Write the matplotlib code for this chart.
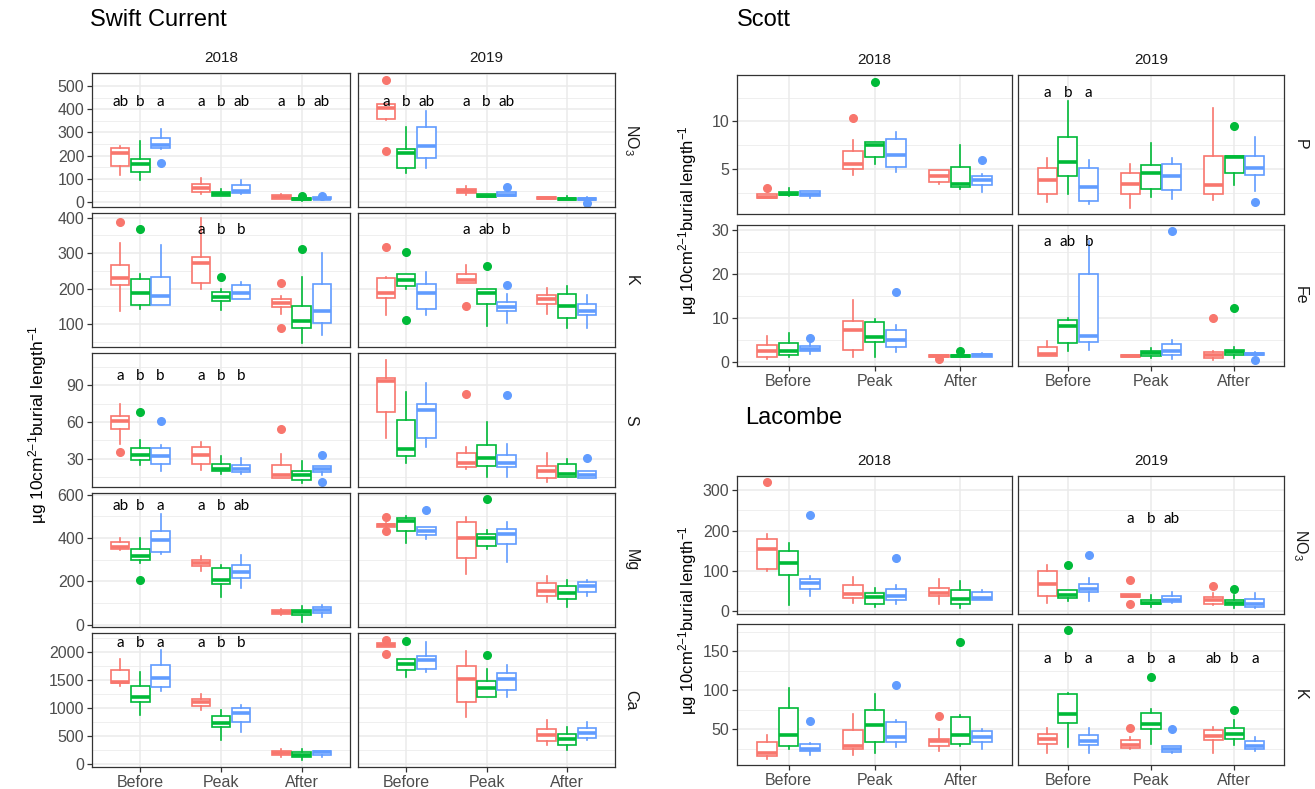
import matplotlib
matplotlib.use("Agg")
import matplotlib.pyplot as plt
from matplotlib.ticker import MultipleLocator

plt.rcParams['font.family'] = ['Liberation Sans', 'DejaVu Sans']
plt.rcParams['mathtext.fontset'] = 'custom'
plt.rcParams['mathtext.rm'] = 'Liberation Sans'
plt.rcParams['mathtext.default'] = 'regular'

W, H = 1315, 789

PERIODS = ["Before", "Peak", "After"]
YEARS = ["2018", "2019"]
COLORS = ["#F8766D", "#00BA38", "#619CFF"]

# ---- box statistics: (whisker low, q1, median, q3, whisker high); order Before(r,g,b), Peak(r,g,b), After(r,g,b)
SC_NO3_2018 = [(115, 155, 212, 232, 240), (95, 130, 165, 185, 265), (230, 235, 248, 275, 315),
               (35, 45, 62, 80, 102), (25, 25, 35, 42, 58), (35, 40, 50, 72, 95),
               (15, 15, 22, 30, 37), (5, 8, 12, 18, 22), (8, 12, 15, 20, 22)]
SC_NO3_2018_OUT = [[], [], [168], [], [], [], [], [28], [28]]
SC_NO3_2019 = [(355, 358, 405, 422, 422), (125, 145, 210, 228, 325), (148, 188, 243, 322, 392),
               (30, 40, 48, 55, 70), (20, 22, 27, 33, 35), (25, 28, 32, 42, 45),
               (12, 14, 17, 20, 22), (8, 10, 13, 18, 28), (8, 10, 14, 18, 20)]
SC_NO3_2019_OUT = [[527, 218], [], [], [], [], [65], [], [], [-3]]

SC_K_2018 = [(138, 210, 230, 267, 330), (143, 153, 188, 227, 240), (155, 155, 180, 233, 322),
             (198, 215, 272, 290, 398), (140, 165, 178, 190, 198), (170, 172, 187, 210, 220),
             (128, 148, 160, 172, 180), (48, 90, 108, 152, 233), (70, 103, 138, 212, 300)]
SC_K_2018_OUT = [[387], [368], [], [], [233], [], [215, 90], [312], []]
SC_K_2019 = [(125, 173, 188, 230, 232), (200, 207, 225, 240, 240), (127, 143, 188, 212, 246),
             (215, 215, 225, 242, 268), (95, 157, 187, 200, 200), (103, 136, 148, 163, 185),
             (130, 158, 170, 182, 203), (90, 118, 150, 185, 207), (90, 127, 138, 157, 182)]
SC_K_2019_OUT = [[318], [303, 112], [], [152], [263], [210], [], [], []]

SC_S_2018 = [(42, 54, 61, 65, 75), (25, 29, 33, 39, 45), (20, 26, 32, 39, 41),
             (21, 26, 33, 40, 44), (18, 20, 22, 26, 32), (18, 19, 22, 25, 31),
             (14, 14, 17, 25, 34), (10, 13, 17, 20, 28), (17, 19, 22, 24, 24)]
SC_S_2018_OUT = [[36], [68], [61], [], [], [], [54], [], [33, 11]]
SC_S_2019 = [(47, 68, 94, 96, 111), (27, 32, 38, 62, 85), (40, 47, 70, 75, 92),
             (22, 23, 27, 35, 40), (15, 24, 31, 41, 60), (15, 23, 27, 33, 42),
             (11, 14, 20, 24, 35), (15, 15, 18, 26, 30), (14, 14, 17, 20, 20)]
SC_S_2019_OUT = [[], [], [], [83], [], [82], [], [], [31]]

SC_MG_2018 = [(345, 348, 360, 383, 400), (285, 298, 318, 350, 402), (328, 335, 390, 432, 510),
              (250, 273, 285, 300, 318), (128, 190, 205, 262, 275), (170, 215, 245, 275, 322),
              (45, 52, 60, 67, 72), (15, 45, 58, 68, 85), (38, 55, 70, 82, 90)]
SC_MG_2018_OUT = [[], [208], [], [], [], [], [], [], []]
SC_MG_2019 = [(448, 450, 458, 465, 468), (378, 430, 480, 493, 500), (393, 413, 432, 450, 452),
              (235, 308, 400, 475, 495), (350, 362, 400, 418, 435), (290, 370, 418, 440, 475),
              (105, 135, 155, 192, 225), (80, 118, 145, 178, 205), (135, 152, 178, 198, 208)]
SC_MG_2019_OUT = [[495, 430], [], [528], [], [580], [], [], [], []]

SC_CA_2018 = [(1400, 1440, 1470, 1680, 1870), (880, 1100, 1190, 1400, 1640), (1310, 1380, 1540, 1770, 2040),
              (960, 1040, 1100, 1160, 1250), (440, 670, 730, 860, 960), (580, 750, 920, 1010, 1060),
              (130, 160, 200, 230, 270), (70, 130, 170, 210, 280), (130, 170, 210, 240, 240)]
SC_CA_2018_OUT = [[], [], [], [], [], [], [], [], []]
SC_CA_2019 = [(2080, 2090, 2120, 2160, 2170), (1550, 1680, 1780, 1870, 1880), (1650, 1690, 1860, 1920, 2170),
              (850, 1100, 1510, 1750, 2010), (1190, 1200, 1360, 1490, 1690), (1200, 1330, 1520, 1630, 1770),
              (350, 420, 520, 620, 780), (250, 350, 450, 530, 660), (440, 470, 560, 640, 760)]
SC_CA_2019_OUT = [[2220, 1960], [2190], [], [], [1940], [], [], [], []]

ST_P_2018 = [(1.9, 1.9, 2.0, 2.3, 2.4), (2.1, 2.2, 2.4, 2.6, 3.0), (1.9, 2.1, 2.4, 2.7, 2.7),
             (4.4, 5.0, 5.5, 6.9, 8.0), (5.5, 6.2, 7.5, 7.8, 7.8), (4.7, 5.2, 6.5, 8.2, 8.9),
             (3.4, 3.6, 4.2, 4.9, 4.9), (2.9, 3.1, 3.4, 5.2, 7.5), (2.6, 3.3, 3.8, 4.2, 4.5)]
ST_P_2018_OUT = [[3.0], [], [], [10.4], [14.2], [], [], [], [5.9]]
ST_P_2019 = [(1.5, 2.4, 3.8, 5.1, 6.1), (2.4, 4.2, 5.7, 8.4, 12.2), (1.3, 1.6, 3.1, 5.1, 5.9),
             (0.9, 2.4, 3.4, 4.6, 5.5), (2.0, 2.9, 4.6, 5.4, 7.7), (1.8, 2.8, 4.3, 5.5, 6.1),
             (1.7, 2.3, 3.3, 6.4, 11.4), (3.3, 4.6, 6.2, 6.4, 6.4), (2.7, 4.4, 5.1, 6.4, 8.4)]
ST_P_2019_OUT = [[], [], [], [], [], [], [], [9.5], [1.5]]

ST_FE_2018 = [(0.9, 1.2, 2.5, 4.0, 5.9), (1.2, 1.6, 2.5, 4.4, 6.6), (2.0, 2.5, 3.0, 3.7, 4.8),
              (1.2, 2.8, 7.3, 9.3, 14.1), (1.3, 4.7, 5.8, 9.1, 9.8), (2.4, 3.5, 5.2, 7.4, 8.4),
              (1.1, 1.2, 1.4, 1.6, 1.7), (1.2, 1.3, 1.5, 1.8, 2.0), (1.2, 1.3, 1.6, 1.9, 2.2)]
ST_FE_2018_OUT = [[], [], [5.6], [], [], [16.0], [0.8], [2.5], []]
ST_FE_2019 = [(1.4, 1.5, 2.0, 3.5, 4.8), (2.6, 4.5, 8.2, 9.6, 10.0), (2.9, 4.6, 5.9, 20.0, 27.5),
              (1.2, 1.2, 1.4, 1.6, 1.6), (1.0, 1.4, 2.1, 2.6, 3.2), (0.9, 1.6, 2.5, 4.2, 5.0),
              (0.6, 1.0, 1.6, 2.4, 2.6), (1.0, 1.6, 2.4, 2.9, 3.6), (1.6, 1.6, 1.9, 2.2, 2.3)]
ST_FE_2019_OUT = [[], [], [], [], [], [29.8], [10.0], [12.4], [0.5]]

LC_NO3_2018 = [(100, 105, 153, 180, 192), (15, 88, 118, 148, 170), (38, 55, 70, 80, 87),
               (20, 32, 43, 65, 83), (10, 18, 35, 45, 57), (16, 27, 37, 55, 65),
               (17, 36, 45, 57, 79), (8, 18, 30, 52, 75), (28, 28, 33, 47, 52)]
LC_NO3_2018_OUT = [[320], [], [240], [], [], [131], [], [], []]
LC_NO3_2019 = [(20, 38, 67, 98, 113), (25, 31, 40, 52, 52), (25, 47, 55, 66, 82),
               (34, 34, 37, 42, 42), (10, 17, 20, 26, 40), (20, 22, 28, 36, 47),
               (15, 18, 28, 35, 45), (8, 15, 20, 28, 40), (8, 10, 18, 30, 45)]
LC_NO3_2019_OUT = [[], [114], [140], [76, 18], [], [], [63], [55], []]

LC_K_2018 = [(12, 15, 20, 33, 42), (25, 28, 42, 77, 103), (17, 22, 25, 31, 32),
             (17, 24, 29, 49, 70), (20, 33, 55, 74, 95), (27, 34, 40, 59, 62),
             (22, 29, 35, 38, 50), (29, 31, 43, 66, 68), (24, 33, 40, 48, 50)]
LC_K_2018_OUT = [[], [], [60], [], [], [107], [67], [162], []]
LC_K_2019 = [(20, 31, 38, 44, 51), (27, 58, 69, 95, 96), (20, 30, 35, 43, 51),
             (24, 26, 30, 36, 40), (31, 50, 56, 71, 76), (19, 21, 25, 29, 29),
             (20, 36, 41, 49, 53), (30, 38, 44, 52, 62), (22, 24, 29, 35, 40)]
LC_K_2019_OUT = [[], [177], [], [51], [117], [50], [], [74], []]

# ---- significance letters
NONE9 = [""] * 9
SC_NO3_LET = [["ab", "b", "a", "a", "b", "ab", "a", "b", "ab"], ["a", "b", "ab", "a", "b", "ab", "", "", ""]]
SC_K_LET = [["", "", "", "a", "b", "b", "", "", ""], ["", "", "", "a", "ab", "b", "", "", ""]]
SC_S_LET = [["a", "b", "b", "a", "b", "b", "", "", ""], NONE9]
SC_MG_LET = [["ab", "b", "a", "a", "b", "ab", "", "", ""], NONE9]
SC_CA_LET = [["a", "b", "a", "a", "b", "b", "", "", ""], NONE9]
ST_P_LET = [NONE9, ["a", "b", "a", "", "", "", "", "", ""]]
ST_FE_LET = [NONE9, ["a", "ab", "b", "", "", "", "", "", ""]]
LC_NO3_LET = [NONE9, ["", "", "", "a", "b", "ab", "", "", ""]]
LC_K_LET = [NONE9, ["a", "b", "a", "a", "b", "a", "ab", "b", "a"]]

# ---- per-row settings: label, data, letters, letter height, y limits, major step
SC_ROWS = [
    ("NO$_3$", (SC_NO3_2018, SC_NO3_2019), (SC_NO3_2018_OUT, SC_NO3_2019_OUT), SC_NO3_LET, 432, (-21, 556), 100),
    ("K", (SC_K_2018, SC_K_2019), (SC_K_2018_OUT, SC_K_2019_OUT), SC_K_LET, 365, (36, 413), 100),
    ("S", (SC_S_2018, SC_S_2019), (SC_S_2018_OUT, SC_S_2019_OUT), SC_S_LET, 98, (7, 116.5), 30),
    ("Mg", (SC_MG_2018, SC_MG_2019), (SC_MG_2018_OUT, SC_MG_2019_OUT), SC_MG_LET, 548, (-10, 607), 200),
    ("Ca", (SC_CA_2018, SC_CA_2019), (SC_CA_2018_OUT, SC_CA_2019_OUT), SC_CA_LET, 2160, (-49, 2338), 500),
]
ST_ROWS = [
    ("P", (ST_P_2018, ST_P_2019), (ST_P_2018_OUT, ST_P_2019_OUT), ST_P_LET, 13.0, (0.24, 14.9), 5),
    ("Fe", (ST_FE_2018, ST_FE_2019), (ST_FE_2018_OUT, ST_FE_2019_OUT), ST_FE_LET, 27.3, (-0.8, 31.2), 10),
]
LC_ROWS = [
    ("NO$_3$", (LC_NO3_2018, LC_NO3_2019), (LC_NO3_2018_OUT, LC_NO3_2019_OUT), LC_NO3_LET, 230, (-8, 336), 100),
    ("K", (LC_K_2018, LC_K_2019), (LC_K_2018_OUT, LC_K_2019_OUT), LC_K_LET, 140, (4, 185), 50),
]

YLAB = r"µg 10cm$^{2\mathregular{-}1}$burial length$^{-1}$"
TICK_C = "#4D4D4D"
EDGE_C = "#333333"
GRID_C = "#EBEBEB"

fig = plt.figure(figsize=(W / 100, H / 100), dpi=100)


def rect(x0, x1, y0, y1):
    return [x0 / W, 1 - y1 / H, (x1 - x0) / W, (y1 - y0) / H]


def draw_panel(ax, boxes, outs, letters, let_y, ylim, step, left, bottom):
    ax.set_xlim(0.4, 3.6)
    ax.set_ylim(*ylim)
    ax.set_axisbelow(True)
    ax.yaxis.set_major_locator(MultipleLocator(step))
    ax.yaxis.set_minor_locator(MultipleLocator(step / 2))
    ax.set_xticks([1, 2, 3])
    ax.grid(True, which='major', color=GRID_C, linewidth=1.1)
    ax.grid(True, which='minor', axis='y', color=GRID_C, linewidth=0.55)
    for s in ax.spines.values():
        s.set_color(EDGE_C)
        s.set_linewidth(0.9)
    for i, st in enumerate(boxes):
        p, t = divmod(i, 3)
        pos = p + 1 + (t - 1) * 0.25
        c = COLORS[t]
        lo, q1, med, q3, hi = st
        ax.bxp([dict(whislo=lo, q1=q1, med=med, q3=q3, whishi=hi, fliers=outs[i])],
               positions=[pos], widths=0.23, showcaps=False, patch_artist=True,
               manage_ticks=False,
               boxprops=dict(facecolor='white', edgecolor=c, linewidth=1.2),
               whiskerprops=dict(color=c, linewidth=1.2),
               medianprops=dict(color=c, linewidth=2.6, solid_capstyle='butt'),
               flierprops=dict(marker='o', markerfacecolor=c, markeredgecolor=c,
                               markersize=5.5, linestyle='none'))
        if letters[i]:
            ax.text(pos, let_y, letters[i], ha='center', va='center', fontsize=11,
                    color='black', family=['Lato', 'DejaVu Sans'])
    ax.tick_params(axis='y', which='minor', length=0)
    ax.tick_params(axis='both', which='major', colors=EDGE_C, labelcolor=TICK_C,
                   labelsize=11.5, length=3.5, width=0.9, pad=2)
    if not left:
        ax.tick_params(axis='y', which='major', length=0, labelleft=False)
    if bottom:
        ax.set_xticklabels(PERIODS)
    else:
        ax.tick_params(axis='x', which='major', length=0, labelbottom=False)


def draw_grid(rows, cols, row_px, strip_y, right_x):
    for r, (lab, data, outs, lets, let_y, ylim, step) in enumerate(rows):
        y0, y1 = row_px[r]
        for c in range(2):
            x0, x1 = cols[c]
            ax = fig.add_axes(rect(x0, x1, y0, y1))
            draw_panel(ax, data[c], outs[c], lets[c], let_y, ylim, step,
                       left=(c == 0), bottom=(r == len(rows) - 1))
        fig.text(right_x / W, 1 - (y0 + y1) / 2 / H, lab, rotation=-90, ha='center',
                 va='center', fontsize=11.5, color='#1A1A1A')
    for c in range(2):
        x0, x1 = cols[c]
        fig.text((x0 + x1) / 2 / W, 1 - strip_y / H, YEARS[c], ha='center', va='center',
                 fontsize=11, color='#1A1A1A')


# Swift Current
SC_COLS = [(92, 350), (358, 615)]
SC_ROW_PX = [(73, 207), (213, 347), (353, 487), (493, 627), (633, 767)]
draw_grid(SC_ROWS, SC_COLS, SC_ROW_PX, 58, 631)
fig.text(90 / W, 1 - 20 / H, "Swift Current", fontsize=17, ha='left', va='center')
fig.text(38 / W, 1 - 425 / H, YLAB, rotation=90, ha='center', va='center', fontsize=12.5)

# Scott
ST_COLS = [(737, 1012), (1018, 1284)]
ST_ROW_PX = [(75, 214), (225, 366)]
draw_grid(ST_ROWS, ST_COLS, ST_ROW_PX, 60, 1300)
fig.text(737 / W, 1 - 20 / H, "Scott", fontsize=17, ha='left', va='center')
fig.text(688 / W, 1 - 220 / H, YLAB, rotation=90, ha='center', va='center', fontsize=12)

# Lacombe
LC_COLS = [(737, 1012), (1018, 1284)]
LC_ROW_PX = [(476, 614), (624, 765)]
draw_grid(LC_ROWS, LC_COLS, LC_ROW_PX, 461, 1300)
fig.text(745 / W, 1 - 418 / H, "Lacombe", fontsize=17, ha='left', va='center')
fig.text(688 / W, 1 - 620 / H, YLAB, rotation=90, ha='center', va='center', fontsize=12)

fig.savefig("out.png", dpi=100)
